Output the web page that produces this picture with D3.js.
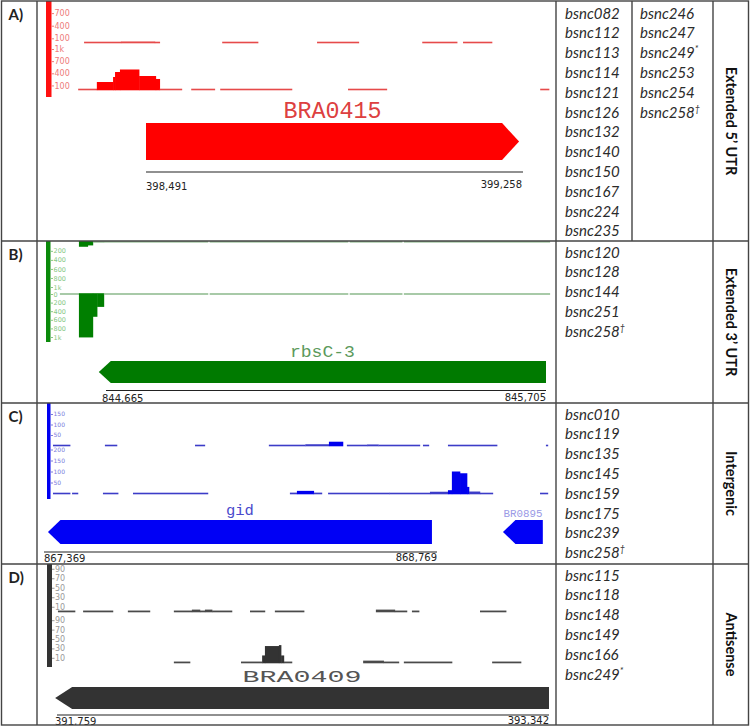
<!DOCTYPE html>
<html><head><meta charset="utf-8">
<script src="https://cdn.jsdelivr.net/npm/d3@7"></script>
<style>body{margin:0;background:#fff}svg{display:block}</style>
</head><body>
<svg id="chart" width="750" height="727"></svg>
<script>
// ---------------- DATA ----------------
const panelLabels = ["A)", "B)", "C)", "D)"];
const categoryLabels = ["Extended 5\u2019 UTR", "Extended 3\u2019 UTR", "Intergenic", "Antisense"];

const namesA1 = ["bsnc082","bsnc112","bsnc113","bsnc114","bsnc121","bsnc126","bsnc132","bsnc140","bsnc150","bsnc167","bsnc224","bsnc235"];
const marksA1 = ["","","","","","","","","","","",""];
const namesA2 = ["bsnc246","bsnc247","bsnc249","bsnc253","bsnc254","bsnc258"];
const marksA2 = ["","","*","","","\u2020"];
const namesB = ["bsnc120","bsnc128","bsnc144","bsnc251","bsnc258"];
const marksB = ["","","","","\u2020"];
const namesC = ["bsnc010","bsnc119","bsnc135","bsnc145","bsnc159","bsnc175","bsnc239","bsnc258"];
const marksC = ["","","","","","","","\u2020"];
const namesD = ["bsnc115","bsnc118","bsnc148","bsnc149","bsnc166","bsnc249"];
const marksD = ["","","","","","*"];

// genome coordinate labels of the scale bars
const coordsA = [398491, 399258];
const coordsB = [844665, 845705];
const coordsC = [867369, 868769];
const coordsD = [391759, 393342];

// coverage tracks: [start, end, reads]
const covA_top = [[398365,398440,6],[398440,398509,25],[398509,398519,6],[398646,398719,6],[398839,398924,6],[399053,399124,6],[399136,399195,6]];
const covA_bottom = [[398353,398391,6],[398391,398424,185],[398424,398428,309],[398428,398438,432],[398438,398477,494],[398477,398511,333],[398511,398519,260],[398519,398564,6],[398583,398631,6],[398642,398788,6],[398902,398981,6],[399293,399311,6]];
const covB_top = [[844601,844622,110],[844622,844634,80],[844634,844660,20],[844660,844906,3],[844910,845237,3],[845241,845365,3],[845369,845714,3]];
const covB_bottom = [[844556,844601,3],[844601,844634,1010],[844634,844644,530],[844644,844660,300],[844660,844906,3],[844910,845237,3],[845241,845365,3],[845369,845714,3]];
const covC_top = [[867401,867462,3],[867586,867629,3],[867907,867942,3],[868170,868300,3],[868300,868384,6],[868384,868434,18],[868448,868520,3],[868520,868560,5],[868560,868708,3],[868719,868740,3],[868808,868983,3],[869157,869164,3]];
const covC_bottom = [[867401,867462,3],[867469,867490,3],[867579,867633,3],[867686,867953,3],[868245,868270,4],[868270,868330,12],[868330,868359,4],[868381,868600,3],[868600,868744,3],[868744,868808,8],[868808,868822,15],[868822,868851,100],[868851,868876,92],[868876,868883,30],[868883,868922,9],[868922,868968,3],[869136,869164,3]];
const covD_top = [[391762,391817,2],[391843,391939,2],[391987,392058,2],[392135,392193,2],[392193,392219,4],[392219,392235,2],[392235,392258,4],[392258,392322,2],[392380,392428,2],[392460,392554,2],[392785,392846,4],[392846,392885,2],[392901,392924,2],[393120,393204,2]];
const covD_bottom = [[392135,392187,2],[392351,392419,2],[392419,392428,15],[392428,392473,35],[392473,392480,37],[392480,392489,15],[392489,392515,2],[392744,392810,4],[392810,392859,2],[392875,393030,2],[393159,393252,2]];

// axis tick values
const ticksA_top = [100, 400, 700];
const ticksA_bottom = [100, 400, 700, 1000];
const ticksB_top = [200, 400, 600, 800, 1000];
const ticksB_bottom = [0, 200, 400, 600, 800, 1000];
const ticksC_top = [50, 100, 150];
const ticksC_bottom = [50, 100, 150, 200];
const ticksD = [10, 30, 50, 70, 90];

// genes: [name, start, end, strand]
const genesA = [["BRA0415", 398491, 399250, "+"]];
const genesB = [["rbsC-3", 844648, 845705, "-"]];
const genesC = [["gid", 867383, 868751, "-"], ["BR0895", 869004, 869146, "-"]];
const genesD = [["BRA0409", 391753, 393342, "-"]];

// ---------------- LAYOUT / STYLE ----------------
const svg = d3.select("#chart");
const rows = [[1, 241], [241, 403], [403, 564], [564, 725]];
const colImgL = 37, colImgR = 556, colMid = 632, colCat = 713, right = 748.5;
const fmtK = v => v >= 1000 ? (v / 1000) + "k" : String(v);

const panels = [
  { coords: coordsA, xr: [146, 523], names: [[namesA1, marksA1, 565], [namesA2, marksA2, 640]], nameY: 18.5,
    bar: [46, 51.5, 0, 97], barColor: "#ff1010", tickColor: "#ee7a7a", tickSize: 8, strong: "#ff0000", light: "#e64a4a",
    tracks: [{ data: covA_top, domain: [0, 1000], range: [42.5, 0.5], ticks: ticksA_top },
             { data: covA_bottom, domain: [0, 1000], range: [89.5, 49], ticks: ticksA_bottom }],
    genes: genesA, geneColor: "#ff0000", gy: [123, 160], head: 17,
    labelStyle: [{ y: 118, size: 23, len: 98, color: "#dd4040" }],
    scaleY: 172, coordY: [190, 188], coordX: [146, 522] },
  { coords: coordsB, xr: [106, 546], names: [[namesB, marksB, 565]], nameY: 257.5,
    bar: [46, 50.5, 241, 342], barColor: "#0b8a0b", tickColor: "#86c886", tickSize: 6.5, strong: "#007f00", light: "#93bd93",
    tracks: [{ data: covB_top, domain: [0, 1000], range: [241.8, 287], ticks: ticksB_top },
             { data: covB_bottom, domain: [0, 1000], range: [294, 337], ticks: ticksB_bottom }],
    genes: genesB, geneColor: "#007a00", gy: [361, 383], head: 12,
    labelStyle: [{ y: 357, size: 16, len: 65, color: "#5c9a5c" }],
    scaleY: 390.5, coordY: [402, 401], coordX: [102, 546] },
  { coords: coordsC, xr: [44, 437], names: [[namesC, marksC, 565]], nameY: 419.5,
    bar: [47, 50.5, 403, 499], barColor: "#0000f0", tickColor: "#7b7bdc", tickSize: 6, strong: "#0000ee", light: "#3c3cc8",
    tracks: [{ data: covC_top, domain: [0, 200], range: [445.5, 403.5], ticks: ticksC_top },
             { data: covC_bottom, domain: [0, 200], range: [493.5, 449.5], ticks: ticksC_bottom }],
    genes: genesC, geneColor: "#0000f5", gy: [520, 544], head: 12.5,
    labelStyle: [{ y: 515, size: 15, len: 28, color: "#4a4acc" }, { y: 517, size: 11, len: 39, color: "#9a9ae6" }],
    scaleY: 552, coordY: [562, 561], coordX: [44, 437] },
  { coords: coordsD, xr: [57, 549], names: [[namesD, marksD, 565]], nameY: 580.5,
    bar: [47, 52, 564, 667], barColor: "#333333", tickColor: "#999999", tickSize: 8, strong: "#333333", light: "#4a4a4a",
    tracks: [{ data: covD_top, domain: [0, 100], range: [611.5, 564], ticks: ticksD },
             { data: covD_bottom, domain: [0, 100], range: [662.5, 615.5], ticks: ticksD }],
    genes: genesD, geneColor: "#333333", gy: [687, 709], head: 17,
    labelStyle: [{ y: 682, size: 17, len: 119, color: "#555555" }],
    scaleY: 715, coordY: [725, 724], coordX: [55, 549] }
];

const defs = svg.append("defs");

panels.forEach((p, i) => {
  const [top, bot] = rows[i];
  const clipId = "clip" + i;
  defs.append("clipPath").attr("id", clipId).append("rect")
    .attr("x", colImgL + 1).attr("y", top).attr("width", colImgR - colImgL - 1).attr("height", bot - top);
  const g = svg.append("g").attr("clip-path", `url(#${clipId})`);
  const x = d3.scaleLinear().domain(p.coords).range(p.xr);

  // data range bar
  g.append("rect").attr("x", p.bar[0]).attr("y", p.bar[2])
    .attr("width", p.bar[1] - p.bar[0]).attr("height", p.bar[3] - p.bar[2]).attr("fill", p.barColor);

  p.tracks.forEach(t => {
    const y = d3.scaleLinear().domain(t.domain).range(t.range);
    const y0 = y(0);
    const up = t.range[1] < t.range[0];
    const half = 0.8;
    g.append("g").selectAll("rect").data(t.data).join("rect")
      .attr("x", d => x(d[0]))
      .attr("width", d => Math.max(0.8, x(d[1]) - x(d[0]) + 0.3))
      .attr("y", d => up ? Math.min(y(d[2]), y0 - half) : y0 - half)
      .attr("height", d => up ? (y0 + half) - Math.min(y(d[2]), y0 - half) : Math.max(y(d[2]), y0 + half) - (y0 - half))
      .attr("fill", d => Math.abs(y(d[2]) - y0) > 2.5 ? p.strong : p.light);

    const ax = g.append("g").attr("transform", `translate(${p.bar[1]},0)`)
      .call(d3.axisRight(y).tickValues(t.ticks).tickSize(2.5).tickPadding(0.5).tickFormat(fmtK));
    ax.select(".domain").remove();
    ax.selectAll("line").attr("stroke", p.tickColor);
    ax.selectAll("text").attr("fill", p.tickColor).style("font-family", "DejaVu Sans")
      .style("font-size", p.tickSize + "px");
  });

  // genes
  p.genes.forEach((gn, k) => {
    const [name, s, e, strand] = gn;
    const xs = x(s), xe = x(e), [yt, yb] = p.gy, ym = (yt + yb) / 2;
    const pts = strand === "+"
      ? [[xs, yt], [xe - p.head, yt], [xe, ym], [xe - p.head, yb], [xs, yb]]
      : [[xs, ym], [xs + p.head, yt], [xe, yt], [xe, yb], [xs + p.head, yb]];
    g.append("path").attr("d", d3.line()(pts) + "Z").attr("fill", p.geneColor);
    const ls = p.labelStyle[k];
    g.append("text").attr("x", (xs + xe) / 2 - ls.len / 2).attr("y", ls.y)
      .attr("textLength", ls.len).attr("lengthAdjust", "spacingAndGlyphs")
      .style("font-family", "Liberation Mono").style("font-size", ls.size + "px")
      .attr("fill", ls.color).text(name);
  });

  // scale bar
  g.append("line").attr("x1", x(p.coords[0])).attr("x2", x(p.coords[1]))
    .attr("y1", p.scaleY).attr("y2", p.scaleY).attr("stroke", "#222").attr("stroke-width", 1.1);
  const cf = d3.format(",");
  g.append("text").attr("x", p.coordX[0]).attr("y", p.coordY[0]).text(cf(p.coords[0]))
    .style("font-family", "DejaVu Sans").style("font-size", "10px").attr("fill", "#222");
  g.append("text").attr("x", p.coordX[1]).attr("y", p.coordY[1]).attr("text-anchor", "end").text(cf(p.coords[1]))
    .style("font-family", "DejaVu Sans").style("font-size", "10px").attr("fill", "#222");

  // panel label
  svg.append("text").attr("x", 8.5).attr("y", top + 18.5).text(panelLabels[i])
    .style("font-family", "Lato").style("font-weight", "bold").style("font-size", "15px").attr("fill", "#222");

  // names
  p.names.forEach(([list, marks, nx]) => {
    const t = svg.append("g").selectAll("text").data(list).join("text")
      .attr("x", nx).attr("y", (d, j) => p.nameY + j * 19.8)
      .style("font-family", "Lato").style("font-style", "italic").style("font-size", "15px").attr("fill", "#2b2b2b");
    t.append("tspan").text(d => d);
    t.append("tspan").attr("dy", -6).style("font-size", "9px").text((d, j) => marks[j]);
  });

  // category label
  svg.append("text").attr("transform", `translate(${(colCat + right) / 2 + 0.5},${(top + bot) / 2}) rotate(90)`)
    .attr("text-anchor", "middle").attr("dominant-baseline", "central")
    .style("font-family", "Lato").style("font-weight", "bold").style("font-size", "14.5px").attr("fill", "#111")
    .text(categoryLabels[i]);
});

// table grid
const grid = svg.append("g").attr("stroke", "#444").attr("stroke-width", 1.4).attr("fill", "none");
grid.append("rect").attr("x", 1.5).attr("y", 1).attr("width", right - 1.5).attr("height", 724);
[colImgL, colImgR, colCat].forEach(cx => grid.append("line").attr("x1", cx).attr("x2", cx).attr("y1", 1).attr("y2", 725));
grid.append("line").attr("x1", colMid).attr("x2", colMid).attr("y1", 1).attr("y2", 241);
[241, 403, 564].forEach(ry => grid.append("line").attr("x1", 1.5).attr("x2", right).attr("y1", ry).attr("y2", ry));
</script></body></html>
